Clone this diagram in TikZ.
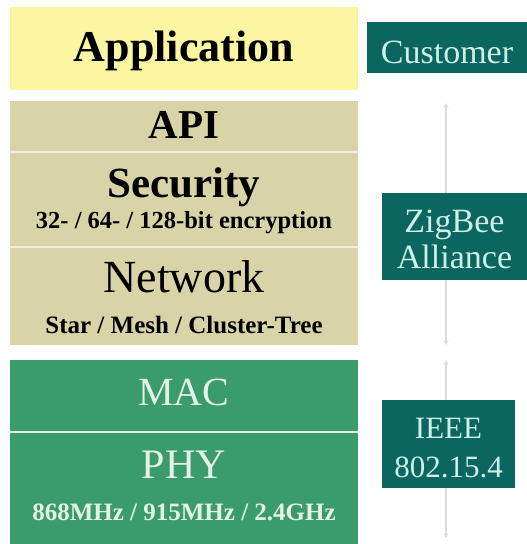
\documentclass[tikz,border=0pt]{standalone}
\usepackage{fontspec}
\setmainfont{Liberation Serif}
\usetikzlibrary{arrows.meta}
\definecolor{appyellow}{RGB}{252,246,162}
\definecolor{zbtan}{RGB}{216,212,168}
\definecolor{ieeegreen}{RGB}{58,155,107}
\definecolor{orgteal}{RGB}{12,102,96}
\definecolor{tealtext}{RGB}{205,240,232}
\definecolor{greentext}{RGB}{228,242,230}
\definecolor{tansep}{RGB}{242,238,214}
\definecolor{arrowgray}{RGB}{218,218,218}
\newcommand{\fs}[1]{\fontsize{#1}{#1}\selectfont}
\begin{document}
\begin{tikzpicture}[x=1pt,y=-1pt,
  layerbox/.style={draw=none,inner sep=0,anchor=north west},
  orgbox/.style={draw=none,fill=orgteal,inner sep=0,anchor=north west},
  txt/.style={inner sep=0,anchor=base},
  flowarrow/.style={draw=arrowgray,line width=1.2pt,-{Stealth[length=5pt,width=5pt]}}]
\useasboundingbox (0,0) rectangle (527,544);
% layer boxes
\node[layerbox,fill=appyellow,minimum width=348pt,minimum height=83pt] (appbox) at (10,7) {};
\node[layerbox,fill=zbtan,minimum width=348pt,minimum height=244pt] (zbbox) at (10,101) {};
\node[layerbox,fill=ieeegreen,minimum width=348pt,minimum height=184pt] (ieeebox) at (10,360) {};
\draw[draw=tansep,line width=1.5pt] (zbbox.west |- 0,152) coordinate (s1a) -- (zbbox.east |- s1a);
\draw[draw=tansep,line width=1.5pt] (zbbox.west |- 0,247) coordinate (s2a) -- (zbbox.east |- s2a);
\draw[draw=greentext,line width=1.5pt] (ieeebox.west |- 0,432) coordinate (s3a) -- (ieeebox.east |- s3a);
% layer texts
\node[txt,font=\bfseries\fs{44}] (application) at (184,61) {Application};
\node[txt,font=\bfseries\fs{41}] (api) at (184,138) {API};
\node[txt,font=\bfseries\fs{43}] (security) at (184,197) {Security};
\node[txt,font=\bfseries\fs{24.5}] (encryption) at (184,228) {32- / 64- / 128-bit encryption};
\node[txt,font=\fs{46}] (network) at (184,292) {Network};
\node[txt,font=\bfseries\fs{25}] (topology) at (184,333) {Star / Mesh / Cluster-Tree};
\node[txt,font=\fs{40},text=greentext] (mac) at (184,405) {MAC};
\node[txt,font=\fs{42},text=greentext] (phy) at (184,478) {PHY};
\node[txt,font=\bfseries\fs{25},text=greentext] (bands) at (184,520) {868MHz / 915MHz / 2.4GHz};
% organisation boxes
\node[orgbox,minimum width=160pt,minimum height=51pt] (customer) at (367,22) {};
\node[orgbox,minimum width=145pt,minimum height=87pt] (zigbee) at (382,193) {};
\node[orgbox,minimum width=133pt,minimum height=88pt] (ieee) at (382,400) {};
\node[txt,font=\fs{34},text=tealtext] (customertxt) at (447,63) {Customer};
\node[txt,font=\fs{34},text=tealtext] (zigbeetxt1) at (454.5,232) {ZigBee};
\node[txt,font=\fs{34},text=tealtext] (zigbeetxt2) at (454.5,268) {Alliance};
\node[txt,font=\fs{31},text=tealtext] (ieeetxt1) at (448.5,438) {IEEE};
\node[txt,font=\fs{31},text=tealtext] (ieeetxt2) at (448.5,477) {802.15.4};
% arrows
\coordinate (tipa) at (446,103);
\coordinate (tipb) at (446,345);
\coordinate (tipc) at (446,360);
\coordinate (tipd) at (446,538);
\draw[flowarrow] (zigbee.north -| tipa) -- (tipa);
\draw[flowarrow] (zigbee.south -| tipb) -- (tipb);
\draw[flowarrow] (ieee.north -| tipc) -- (tipc);
\draw[flowarrow] (ieee.south -| tipd) -- (tipd);
\end{tikzpicture}
\end{document}
